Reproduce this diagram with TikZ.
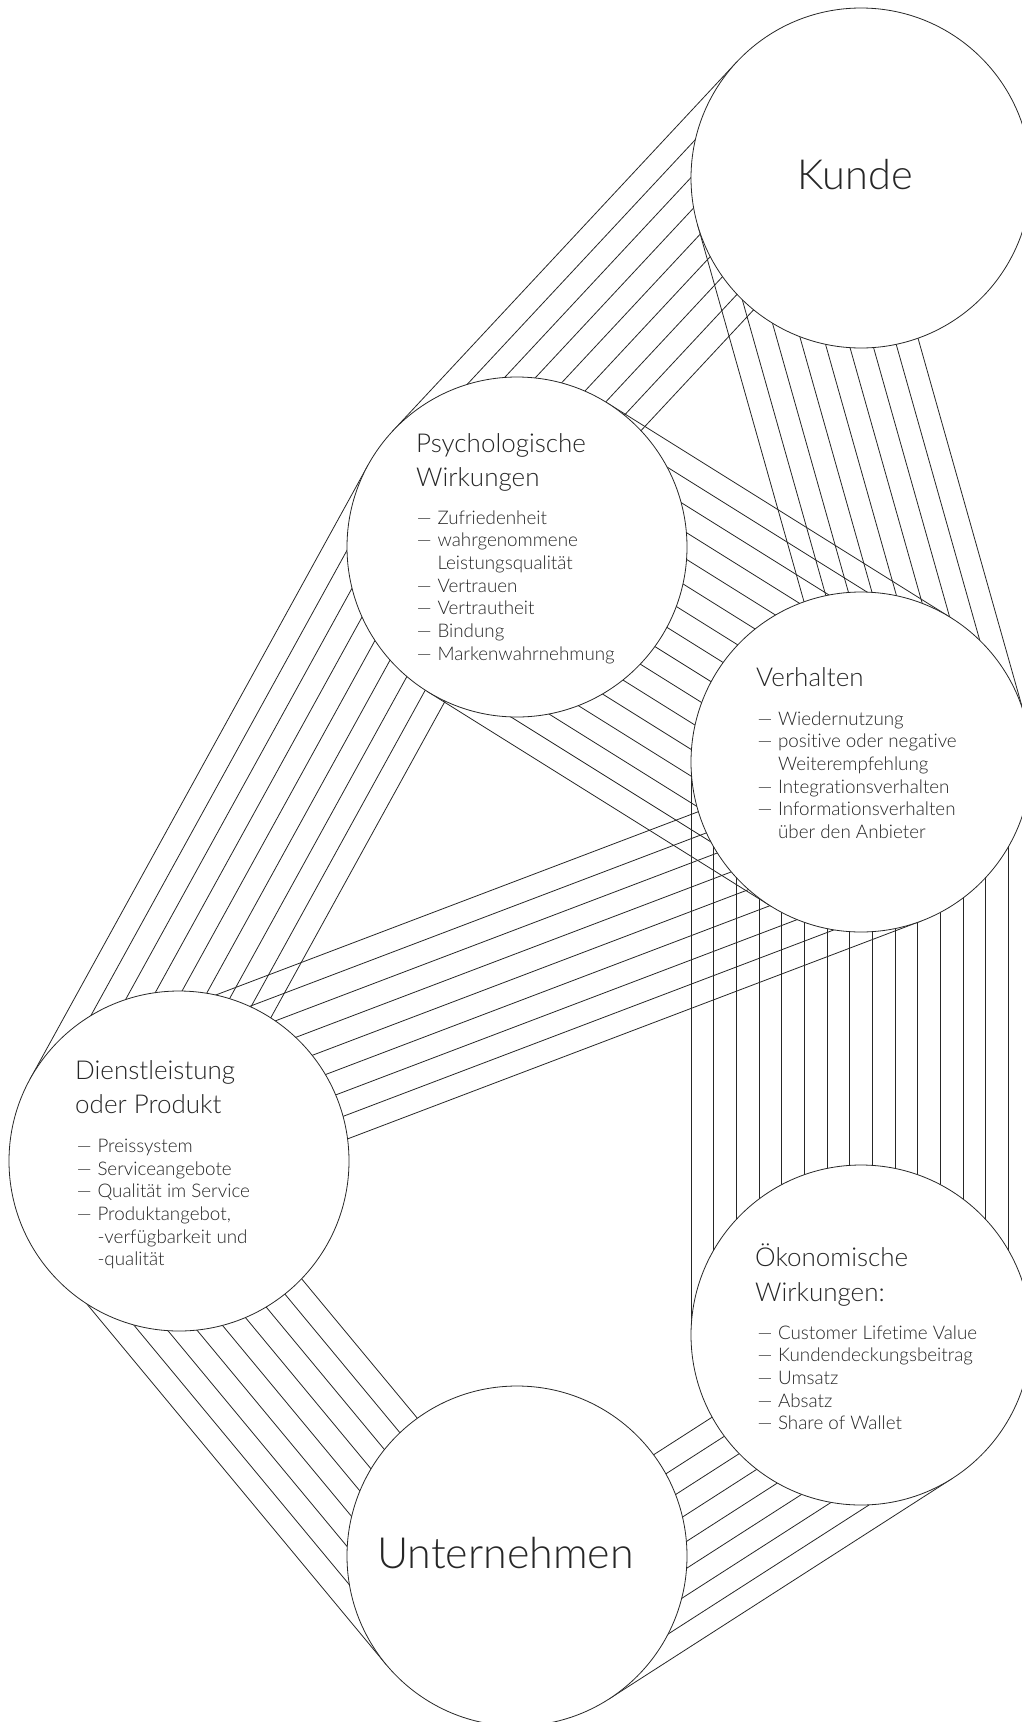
\documentclass[tikz,border=0pt]{standalone}
\usepackage{fontspec}
\IfFontExistsTF{Lato Light}{\setmainfont{Lato Light}[Ligatures=NoCommon]}{\setmainfont{Lato}[Ligatures=NoCommon]}
\usetikzlibrary{calc,backgrounds}
\definecolor{inkgray}{RGB}{38,38,38}
\newcommand{\lstdash}{\makebox[20.6pt][l]{—}}
\newcommand{\lstind}{\hspace*{20.6pt}}

\begin{document}
\begin{tikzpicture}[x=1pt,y=-1pt,
  bubble/.style={circle,draw=inkgray,line width=0.8pt,fill=white,minimum size=340pt,inner sep=0pt},
  band/.style={inkgray,line width=0.8pt},
  bigtext/.style={anchor=base west,inner sep=0pt,text=inkgray,font=\fontsize{41.5}{42}\selectfont},
  headtext/.style={anchor=base west,inner sep=0pt,text=inkgray,font=\fontsize{26}{30}\selectfont},
  itemtext/.style={anchor=base west,inner sep=0pt,text=inkgray,font=\fontsize{18.8}{22}\selectfont}]
  \useasboundingbox (0,0) rectangle (1022,1722);
  % circles
  \node[bubble] (K) at (861,178) {};
  \node[bubble] (P) at (517,547) {};
  \node[bubble] (V) at (861,762) {};
  \node[bubble] (D) at (179,1161) {};
  \node[bubble] (O) at (861,1335) {};
  \node[bubble] (U) at (517,1556) {};
  % big labels
  \node[bigtext] (Kt) at (797,189.4) {Kunde};
  \node[bigtext,font=\fontsize{43}{44}\selectfont] (Ut) at (377,1568.3) {Unternehmen};
  % headings
  \node[headtext] (Ph1) at (416,452.7) {Psychologische};
  \node[headtext] (Ph2) at (416,486) {Wirkungen};
  \node[headtext] (Vh) at (756,686.7) {Verhalten};
  \node[headtext] (Dh1) at (75,1079.3) {Dienstleistung};
  \node[headtext] (Dh2) at (75,1113.3) {oder Produkt};
  \node[headtext] (Oh1) at (755,1266) {Ökonomische};
  \node[headtext] (Oh2) at (755,1301) {Wirkungen:};
  % lists
  \foreach \t [count=\i from 0] in {\lstdash Zufriedenheit, \lstdash wahrgenommene,
      \lstind Leistungsqualität, \lstdash Vertrauen, \lstdash Vertrautheit,
      \lstdash Bindung, \lstdash Markenwahrnehmung}
    \node[itemtext] (Pl\i) at (416.7,{524+22.67*\i}) {\t};
  \foreach \t [count=\i from 0] in {\lstdash Wiedernutzung, \lstdash positive oder negative,
      \lstind Weiterempfehlung, \lstdash Integrationsverhalten,
      \lstdash Informationsverhalten, \lstind über den Anbieter}
    \node[itemtext] (Vl\i) at (757.3,{725+22.67*\i}) {\t};
  \foreach \t [count=\i from 0] in {\lstdash Preissystem, \lstdash Serviceangebote,
      \lstdash Qualität im Service, {\lstdash Produktangebot,},
      \lstind -verfügbarkeit und, \lstind -qualität}
    \node[itemtext] (Dl\i) at (76.7,{1152.5+22.67*\i}) {\t};
  \foreach \t [count=\i from 0] in {\lstdash Customer Lifetime Value,
      \lstdash Kundendeckungsbeitrag, \lstdash Umsatz, \lstdash Absatz,
      \lstdash Share of Wallet}
    \node[itemtext] (Ol\i) at (757.3,{1339.3+22.67*\i}) {\t};
  % bands of parallel lines behind the circles
  \begin{scope}[on background layer]
    % Kunde -- Psychologische
    \foreach \k in {0,...,8}
      \draw[band] ($(K)+(223:{170-22.667*\k})$) -- ($(P)+(223:{170-22.667*\k})$);
    % Psychologische -- Dienstleistung
    \foreach \k in {0,...,8}
      \draw[band] ($(P)+(208.84:{170-22.667*\k})$) -- ($(D)+(208.84:{170-22.667*\k})$);
    % Dienstleistung -- Unternehmen
    \foreach \k in {0,...,8}
      \draw[band] ($(D)+(140.3:{162.2-22.667*\k})$) -- ($(U)+(140.3:{170-22.667*\k})$);
    % Unternehmen -- Oekonomische
    \foreach \k in {0,...,8}
      \draw[band] ($(U)+(57.28:{170-22.667*\k})$) -- ($(O)+(57.28:{170-22.667*\k})$);
    % Oekonomische -- Verhalten
    \foreach \k in {0,...,15}
      \draw[band] ($(O)+(0:{-170+22.667*\k})$) -- ($(V)+(0:{-170+22.667*\k})$);
    % Kunde -- Verhalten (slanted)
    \foreach \k in {0,...,8}
      \draw[band] ($(K)+(164.23:{170-22.667*\k})$) -- ($(V)+(164.23:{11.3-22.667*\k})$);
    % Psychologische -- Verhalten
    \foreach \k in {0,...,15}
      \draw[band] ($(P)+(122.01:{-170+22.667*\k})$) -- ($(V)+(122.01:{-170+22.667*\k})$);
    % Dienstleistung -- Verhalten (slanted)
    \foreach \k in {0,...,8}
      \draw[band] ($(D)+(69.2:{39.2-22.667*\k})$) -- ($(V)+(69.2:{170-22.667*\k})$);
  \end{scope}
\end{tikzpicture}
\end{document}
